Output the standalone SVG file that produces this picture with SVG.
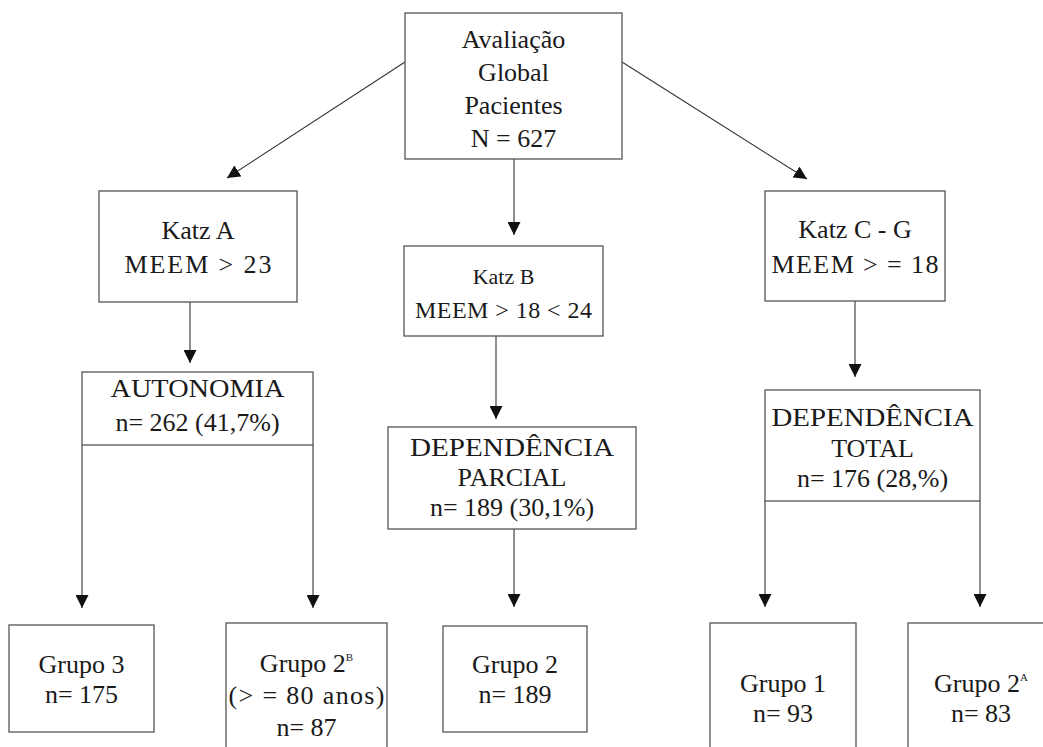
<svg xmlns="http://www.w3.org/2000/svg" width="1043" height="747" viewBox="0 0 1043 747">
<defs>
<marker id="ah" markerUnits="userSpaceOnUse" markerWidth="14" markerHeight="13" refX="13" refY="6.5" orient="auto">
<path d="M0,0 L13,6.5 L0,13 Z" fill="#111"/>
</marker>
<style>
.box{fill:#fff;stroke:#555;stroke-width:1.3}
.t{font-family:"Liberation Serif","Times New Roman",serif;font-size:26px;fill:#1a1a1a;text-anchor:middle}
.s{font-size:22px}
.m{font-size:24px}
.conn line{stroke:#333;stroke-width:1.1;marker-end:url(#ah)}
</style>
</defs>
<rect width="1043" height="747" fill="#fff"/>
<g class="conn" id="connectors">
<line x1="405" y1="62" x2="227" y2="178"/>
<line x1="622" y1="62" x2="807" y2="179"/>
<line x1="514" y1="159" x2="514" y2="235"/>
<line x1="190" y1="302" x2="190" y2="363"/>
<line x1="496" y1="336" x2="496" y2="419"/>
<line x1="855" y1="301" x2="855" y2="377"/>
<line x1="82" y1="445" x2="82" y2="608"/>
<line x1="313" y1="445" x2="313" y2="608"/>
<line x1="514" y1="529" x2="514" y2="607"/>
<line x1="765" y1="501" x2="765" y2="607"/>
<line x1="980" y1="501" x2="980" y2="607"/>
</g>
<g id="root">
<rect class="box" x="405" y="13" width="217" height="146"/>
<text class="t" x="513.5" y="48">Avaliação</text>
<text class="t" x="513.5" y="81">Global</text>
<text class="t" x="513.5" y="114">Pacientes</text>
<text class="t" x="513.5" y="147">N = 627</text>
</g>
<g id="katzA">
<rect class="box" x="99" y="191" width="198" height="111"/>
<text class="t" x="198" y="239">Katz A</text>
<text class="t" x="198" y="273" textLength="147">MEEM &gt; 23</text>
</g>
<g id="katzB">
<rect class="box" x="404" y="246" width="199" height="90"/>
<text class="t s" x="503.5" y="284">Katz B</text>
<text class="t m" x="503.5" y="318" textLength="177">MEEM &gt; 18 &lt; 24</text>
</g>
<g id="katzCG">
<rect class="box" x="765" y="191" width="180" height="110"/>
<text class="t" x="855" y="238">Katz C - G</text>
<text class="t" x="855" y="273" textLength="167">MEEM &gt; = 18</text>
</g>
<g id="autonomia">
<rect class="box" x="82" y="372" width="231" height="73"/>
<text class="t" x="197.5" y="397" textLength="174" lengthAdjust="spacingAndGlyphs">AUTONOMIA</text>
<text class="t" x="197.5" y="431">n= 262 (41,7%)</text>
</g>
<g id="parcial">
<rect class="box" x="388" y="427" width="248" height="102"/>
<text class="t" x="512" y="456" textLength="204" lengthAdjust="spacingAndGlyphs">DEPENDÊNCIA</text>
<text class="t" x="512" y="486">PARCIAL</text>
<text class="t" x="512" y="516">n= 189 (30,1%)</text>
</g>
<g id="total">
<rect class="box" x="765" y="390" width="215" height="111"/>
<text class="t" x="872.5" y="426" textLength="202" lengthAdjust="spacingAndGlyphs">DEPENDÊNCIA</text>
<text class="t" x="872.5" y="457">TOTAL</text>
<text class="t" x="872.5" y="487">n= 176 (28,%)</text>
</g>
<g id="grupo3">
<rect class="box" x="9" y="625" width="145" height="107"/>
<text class="t" x="81.5" y="673">Grupo 3</text>
<text class="t" x="81.5" y="703">n= 175</text>
</g>
<g id="grupo2B">
<rect class="box" x="226" y="623" width="161" height="130"/>
<text class="t" x="306.5" y="672">Grupo 2<tspan font-size="11" dy="-11">B</tspan></text>
<text class="t" x="306.5" y="704" textLength="156">(&gt; = 80 anos)</text>
<text class="t" x="306.5" y="736">n= 87</text>
</g>
<g id="grupo2">
<rect class="box" x="443" y="626" width="144" height="106"/>
<text class="t" x="515" y="673">Grupo 2</text>
<text class="t" x="515" y="703">n= 189</text>
</g>
<g id="grupo1">
<rect class="box" x="710" y="623" width="146" height="130"/>
<text class="t" x="783" y="692">Grupo 1</text>
<text class="t" x="783" y="722">n= 93</text>
</g>
<g id="grupo2A">
<rect class="box" x="908" y="623" width="140" height="130"/>
<text class="t" x="981" y="692">Grupo 2<tspan font-size="11" dy="-11">A</tspan></text>
<text class="t" x="981" y="722">n= 83</text>
</g>
</svg>
